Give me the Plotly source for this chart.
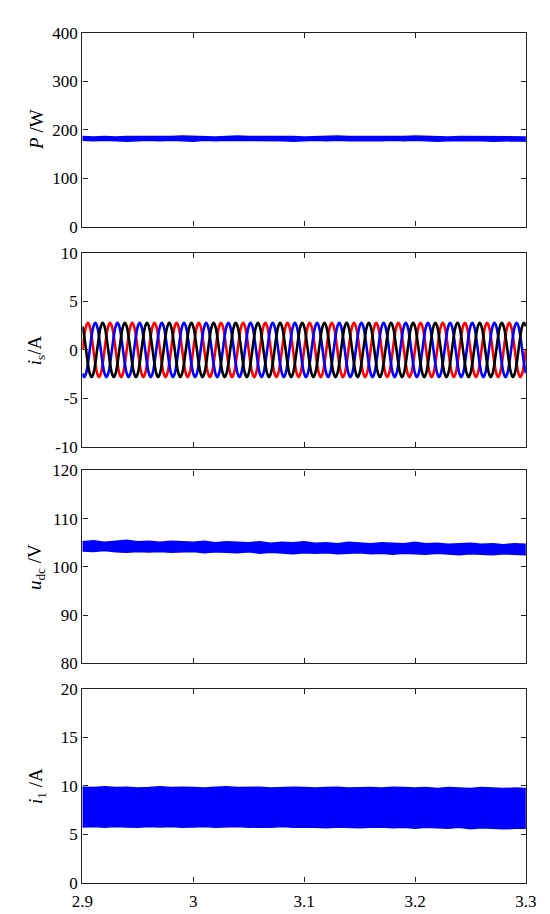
import numpy as np
import plotly.graph_objects as go

# ---------------- data ----------------
t_start, t_end = 2.9, 3.3
x_ticks = [2.9, 3.0, 3.1, 3.2, 3.3]
x_tick_labels = ["2.9", "3", "3.1", "3.2", "3.3"]

# envelope sample times (every 10 ms)
t_env = [round(2.9 + 0.01 * k, 2) for k in range(41)]

# P / W : upper and lower edge of the ripple band
p_upper = [186, 185, 186, 185, 186, 186, 185, 186, 186, 187, 186, 186, 185, 186, 187, 186,
           186, 187, 186, 186, 185, 186, 186, 187, 186, 186, 185, 186, 186, 186, 187, 186,
           186, 185, 186, 186, 186, 185, 186, 186, 185]
p_lower = [178, 177, 178, 177, 176, 177, 178, 177, 178, 177, 176, 178, 177, 178, 178, 177,
           177, 178, 177, 176, 177, 178, 177, 178, 177, 177, 176, 177, 178, 177, 178, 177,
           176, 177, 177, 178, 177, 176, 177, 177, 176]

# i_s / A : one 50 Hz period sampled every 30 degrees, three phases
is_cycle = [0.0, 1.4, 2.42, 2.8, 2.42, 1.4, 0.0, -1.4, -2.42, -2.8, -2.42, -1.4]
is_cycles = 20
is_phase_start = {"red": 0, "black": 4, "blue": 8}   # start index in is_cycle

# u_dc / V
udc_upper = [105.2, 105.4, 105.1, 105.3, 105.5, 105.2, 105.3, 105.1, 105.3, 105.2, 105.1,
             105.3, 105.0, 105.2, 105.1, 105.0, 105.2, 104.9, 105.1, 105.0, 105.2, 104.9,
             105.0, 104.8, 105.1, 104.9, 104.8, 105.0, 104.9, 104.8, 105.1, 104.8, 104.9,
             104.7, 104.8, 104.9, 104.7, 104.8, 104.6, 104.8, 104.7]
udc_lower = [103.3, 103.2, 103.4, 103.1, 103.0, 103.2, 103.1, 103.2, 103.0, 103.1, 103.2,
             102.9, 103.1, 103.0, 102.9, 103.1, 102.8, 103.0, 102.9, 102.7, 102.9, 102.8,
             102.9, 102.7, 102.8, 102.9, 102.7, 102.8, 102.6, 102.8, 102.7, 102.6, 102.8,
             102.7, 102.5, 102.7, 102.6, 102.5, 102.7, 102.6, 102.5]

# i_1 / A
i1_upper = [9.85, 9.8, 9.9, 9.8, 9.85, 9.75, 9.8, 9.9, 9.8, 9.85, 9.8, 9.75, 9.85, 9.9,
            9.8, 9.8, 9.85, 9.75, 9.8, 9.85, 9.8, 9.75, 9.8, 9.85, 9.75, 9.8, 9.8, 9.75,
            9.85, 9.8, 9.75, 9.8, 9.7, 9.8, 9.75, 9.7, 9.8, 9.75, 9.7, 9.75, 9.7]
i1_lower = [5.75, 5.8, 5.7, 5.8, 5.75, 5.7, 5.8, 5.75, 5.8, 5.7, 5.75, 5.8, 5.7, 5.75,
            5.8, 5.7, 5.75, 5.7, 5.8, 5.7, 5.75, 5.7, 5.65, 5.75, 5.7, 5.65, 5.7, 5.75,
            5.65, 5.7, 5.6, 5.7, 5.65, 5.6, 5.7, 5.55, 5.65, 5.6, 5.55, 5.6, 5.6]

# axis settings
y_ranges = [[0, 400], [-10, 10], [80, 120], [0, 20]]
y_ticks = [[0, 100, 200, 300, 400], [-10, -5, 0, 5, 10], [80, 90, 100, 110, 120], [0, 5, 10, 15, 20]]
y_tick_labels = [["0", "100", "200", "300", "400"], ["-10", "-5", "0", "5", "10"],
                 ["80", "90", "100", "110", "120"], ["0", "5", "10", "15", "20"]]
y_titles = ["<i>P</i> /W", "<i>i</i><sub>s</sub>/A", "<i>u</i><sub>dc</sub> /V", "<i>i</i><sub>1</sub> /A"]

# ---------------- figure ----------------
W, H = 550, 914
panels_px = [(16, 214), (241, 439), (463, 660), (686, 884)]
x_dom = [66 / W, 528 / W]
FONT = "Times New Roman, Liberation Serif, Tinos, DejaVu Serif, serif"
BLUE = "#0000ff"

fig = go.Figure()


def band(k, lo, hi):
    xa = "x" if k == 0 else f"x{k+1}"
    ya = "y" if k == 0 else f"y{k+1}"
    fig.add_trace(go.Scatter(x=t_env, y=lo, mode="lines", line=dict(color=BLUE, width=1.5),
                             xaxis=xa, yaxis=ya, showlegend=False, hoverinfo="skip"))
    fig.add_trace(go.Scatter(x=t_env, y=hi, mode="lines", line=dict(color=BLUE, width=1.5),
                             fill="tonexty", fillcolor=BLUE,
                             xaxis=xa, yaxis=ya, showlegend=False, hoverinfo="skip"))


band(0, p_lower, p_upper)

n_pts = is_cycles * len(is_cycle) + 1
t_is = np.linspace(t_start, t_end, n_pts)
for color, name in [("#ff0000", "red"), (BLUE, "blue"), ("#000000", "black")]:
    s = is_phase_start[name]
    vals = [is_cycle[(s + k) % len(is_cycle)] for k in range(n_pts)]
    fig.add_trace(go.Scatter(x=t_is, y=vals, mode="lines",
                             line=dict(color=color, width=2.6, shape="spline", smoothing=1.3),
                             xaxis="x2", yaxis="y2", showlegend=False, hoverinfo="skip"))

band(2, udc_lower, udc_upper)
band(3, i1_lower, i1_upper)

layout = dict(width=W, height=H, autosize=False, margin=dict(l=0, r=0, t=0, b=0),
              plot_bgcolor="white", paper_bgcolor="white",
              font=dict(family=FONT, size=17, color="black"))

annotations = []
for k, (top, bot) in enumerate(panels_px):
    dom = [1 - bot / H, 1 - top / H]
    xn = "xaxis" if k == 0 else f"xaxis{k+1}"
    yn = "yaxis" if k == 0 else f"yaxis{k+1}"
    anchor_x = "y" if k == 0 else f"y{k+1}"
    anchor_y = "x" if k == 0 else f"x{k+1}"
    common = dict(showline=True, linecolor="#222222", linewidth=1.3, mirror="ticks",
                  ticks="inside", ticklen=5, tickwidth=1.2, tickcolor="#222222",
                  showgrid=False, zeroline=False, fixedrange=True)
    layout[xn] = dict(domain=x_dom, anchor=anchor_x, range=[t_start, t_end],
                      tickvals=x_ticks, ticktext=x_tick_labels,
                      showticklabels=(k == 3),
                      tickfont=dict(size=17, family=FONT, color="black"), **common)
    if k == 3:
        layout[xn]["ticklabelstandoff"] = 3
    layout[yn] = dict(domain=dom, anchor=anchor_y, range=y_ranges[k],
                      tickvals=y_ticks[k], ticktext=y_tick_labels[k],
                      tickfont=dict(size=17, family=FONT, color="black"), **common)
    annotations.append(dict(text=y_titles[k], xref="paper", yref="paper",
                            x=18 / W, y=(dom[0] + dom[1]) / 2, xanchor="center", yanchor="middle",
                            textangle=-90, showarrow=False,
                            font=dict(size=19, family=FONT, color="black")))
layout["annotations"] = annotations
fig.update_layout(**layout)

fig.write_html("out.html")
